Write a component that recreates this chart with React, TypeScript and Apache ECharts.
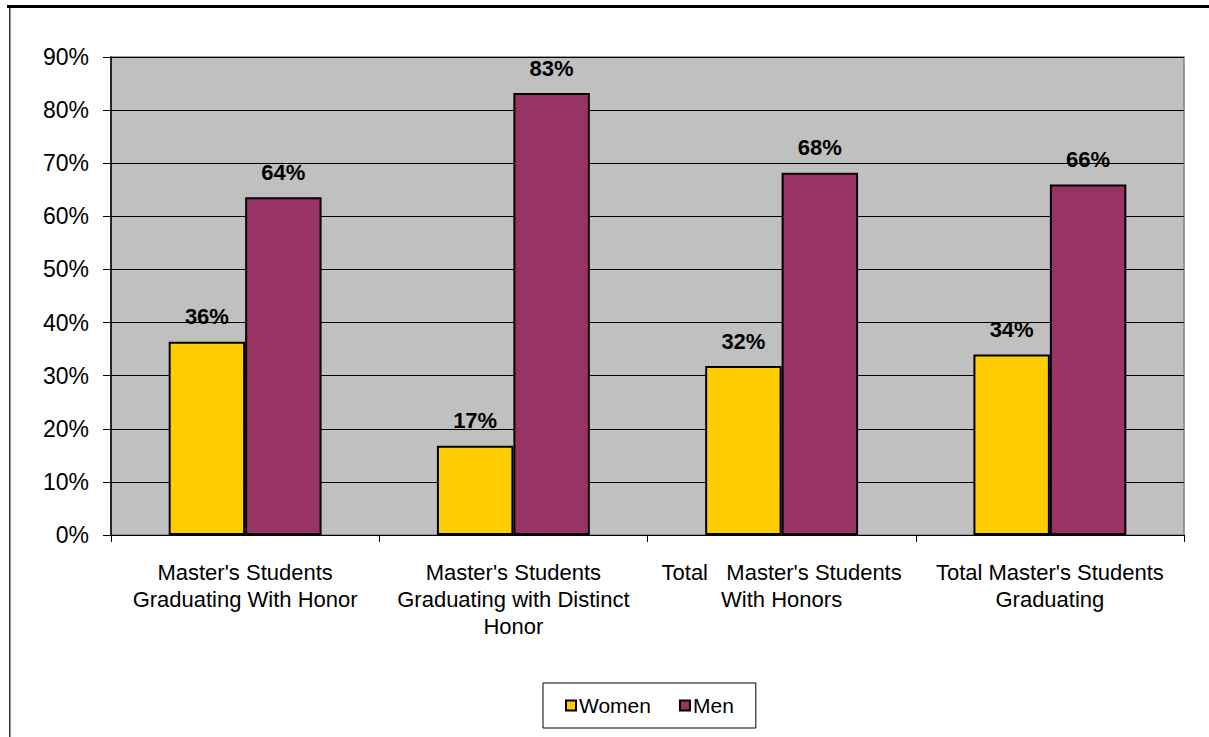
import React, { useEffect, useRef } from "react";
import * as echarts from "echarts";

const categories = [
  "Master's Students\nGraduating With Honor",
  "Master's Students\nGraduating with Distinct\nHonor",
  "Total   Master's Students\nWith Honors",
  "Total Master's Students\nGraduating",
];
const women = [36.4, 16.8, 31.8, 34.0];
const men = [63.6, 83.2, 68.2, 66.0];
const seriesNames = ["Women", "Men"];
const yMax = 90;
const yStep = 10;

export default function App() {
  const ref = useRef<HTMLDivElement>(null);
  useEffect(() => {
    document.body.style.margin = "0";
    const chart = echarts.init(ref.current!, null, { renderer: "svg" });
    const font = "'Liberation Sans', Arial, sans-serif";
    const label = {
      show: true,
      position: "top",
      distance: 14,
      fontFamily: font,
      fontSize: 22,
      fontWeight: "bold",
      color: "#000",
      formatter: (p: any) => Math.round(p.value) + "%",
    };
    chart.setOption({
      animation: false,
      backgroundColor: "#fff",
      textStyle: { fontFamily: font },
      graphic: [
        { type: "rect", shape: { x: 7, y: 5, width: 1202, height: 3 }, style: { fill: "#000" } },
        { type: "rect", shape: { x: 9, y: 8, width: 1.5, height: 729 }, style: { fill: "#333" } },
      ],
      grid: {
        left: 111,
        right: 25,
        top: 57,
        bottom: 202,
        show: true,
        backgroundColor: "#C0C0C0",
        borderColor: "#808080",
        borderWidth: 1.5,
      },
      legend: {
        data: seriesNames,
        left: 543,
        top: 683,
        padding: [12, 22, 12, 22],
        itemGap: 28,
        itemWidth: 10,
        itemHeight: 10,
        icon: "rect",
        borderColor: "#000",
        borderWidth: 1,
        backgroundColor: "#fff",
        textStyle: { fontFamily: font, fontSize: 21, color: "#000", padding: [0, 0, 0, -2] },
      },
      xAxis: {
        type: "category",
        data: categories,
        axisLine: { show: true, lineStyle: { color: "#000", width: 1 } },
        axisTick: { show: true, length: 7, lineStyle: { color: "#000" } },
        axisLabel: {
          interval: 0,
          margin: 24,
          fontFamily: font,
          fontSize: 22,
          lineHeight: 27,
          color: "#000",
          align: "center",
        },
      },
      yAxis: {
        type: "value",
        min: 0,
        max: yMax,
        interval: yStep,
        axisLine: { show: true, lineStyle: { color: "#000", width: 1.5 } },
        axisTick: { show: true, length: 8, lineStyle: { color: "#000" } },
        axisLabel: {
          margin: 22,
          fontFamily: font,
          fontSize: 23,
          color: "#000",
          formatter: (v: number) => v + "%",
        },
        splitLine: { show: true, lineStyle: { color: "#000", width: 1 } },
      },
      series: [
        {
          name: seriesNames[0],
          type: "bar",
          data: women,
          barGap: "0%",
          barCategoryGap: "43%",
          itemStyle: { color: "#FFCC00", borderColor: "#000", borderWidth: 2 },
          label,
        },
        {
          name: seriesNames[1],
          type: "bar",
          data: men,
          barGap: "0%",
          barCategoryGap: "43%",
          itemStyle: { color: "#993366", borderColor: "#000", borderWidth: 2 },
          label,
        },
      ],
    });
    return () => chart.dispose();
  }, []);
  return <div ref={ref} style={{ width: 1209, height: 737 }} />;
}
